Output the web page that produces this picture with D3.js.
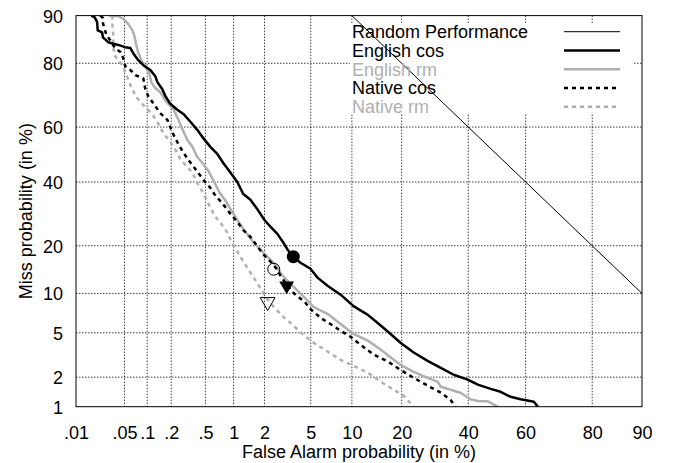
<!DOCTYPE html>
<html>
<head>
<meta charset="utf-8">
<script src="https://cdn.jsdelivr.net/npm/d3@7"></script>
<style>
  html, body { margin: 0; padding: 0; background: #fff; }
  svg { display: block; font-family: "Liberation Sans", Arial, Helvetica, sans-serif; }
</style>
</head>
<body>
<svg id="chart" width="681" height="463"></svg>
<script>
// ---------------- DATA (percent values) ----------------
const xTickValues = [0.01, 0.05, 0.1, 0.2, 0.5, 1, 2, 5, 10, 20, 40, 60, 80, 90];
const xTickLabels = [".01", ".05", ".1", ".2", ".5", "1", "2", "5", "10", "20", "40", "60", "80", "90"];
const yTickValues = [1, 2, 5, 10, 20, 40, 60, 80, 90];
const yTickLabels = ["1", "2", "5", "10", "20", "40", "60", "80", "90"];

const randomPerformance = [[10, 90], [90, 10]];

const englishCos = [[0.017,90],[0.019,89.7],[0.0206,88.9],[0.021,87.4],[0.0243,87.0],[0.025,86],[0.0296,85],[0.041,84.4],[0.051,83.9],[0.06,83.7],[0.0656,82.5],[0.0764,80.8],[0.089,79.5],[0.11,78.2],[0.127,76.5],[0.135,74.8],[0.155,72.7],[0.17,70.5],[0.195,68],[0.237,66],[0.28,64.6],[0.34,61.8],[0.405,59],[0.474,56],[0.567,52.8],[0.674,50.2],[0.781,46.9],[0.93,43.3],[1.09,40],[1.25,35.8],[1.47,33.8],[1.73,30.5],[2.0,27.3],[2.28,25.2],[2.62,23.2],[2.96,20.8],[3.22,19.0],[3.63,17.2],[4.13,15.9],[4.97,14.6],[5.65,12.8],[6.72,11.3],[8.36,9.8],[10.25,8.1],[12.7,6.95],[14.6,6.0],[16.8,5.1],[19.7,4.12],[23.1,3.39],[27.0,2.85],[31,2.45],[35.1,2.11],[39.8,1.89],[43.3,1.69],[47.8,1.53],[51.3,1.43],[54.8,1.27],[58.3,1.2],[62.8,1.13],[64.1,1.0]];

const englishRm = [[0.03,90],[0.041,89.9],[0.049,89.4],[0.056,88.6],[0.064,87.4],[0.068,86.3],[0.072,84.4],[0.076,82.8],[0.084,80.8],[0.094,79.3],[0.106,77.6],[0.113,74.8],[0.127,73],[0.146,71.8],[0.175,68.6],[0.212,66.3],[0.243,62.8],[0.272,59.3],[0.312,55.3],[0.358,52.8],[0.405,49.1],[0.474,46.5],[0.539,44],[0.626,40],[0.707,36.5],[0.8,34.1],[0.928,30.8],[1.09,27.3],[1.29,24.1],[1.58,20.8],[1.96,18.2],[2.42,15.9],[2.96,13],[3.63,11.1],[4.38,9.48],[5.26,7.99],[6.72,7.08],[8.36,5.9],[10.25,4.9],[12.7,4.3],[15.2,3.6],[17.5,3.04],[19.7,2.62],[23.1,2.25],[27.0,1.97],[30,1.81],[31,1.61],[34.1,1.5],[37.4,1.4],[40.8,1.2],[43.3,1.15],[46.8,1.14],[50.3,1]];

const nativeCos = [[0.0228,90],[0.025,89.6],[0.025,88.7],[0.028,86.5],[0.032,85.3],[0.037,83.7],[0.044,82.8],[0.048,81.3],[0.051,79.3],[0.06,78.2],[0.07,76.8],[0.089,75.9],[0.094,73],[0.103,70.5],[0.119,68.3],[0.146,64.9],[0.18,62.5],[0.206,58.2],[0.237,54.6],[0.272,51.3],[0.321,48],[0.376,45.1],[0.44,42.2],[0.498,40],[0.567,37.9],[0.626,35.8],[0.707,33.8],[0.8,31.8],[0.928,29.2],[1.09,26.7],[1.25,24.3],[1.47,22.4],[1.73,19.7],[1.96,17.8],[2.28,16.1],[2.62,14.4],[2.79,13.2],[3.16,11.5],[3.7,9.9],[4.47,8.7],[4.97,7.7],[5.95,6.6],[7.06,5.9],[8.36,5.2],[9.8,4.64],[11.4,3.96],[13.8,3.25],[16.8,2.8],[19.7,2.35],[23.1,1.97],[27.0,1.65],[31,1.4],[34.1,1.18],[35.7,1]];

const nativeRm = [[0.034,90],[0.034,88.4],[0.035,86.5],[0.035,84.4],[0.036,82.1],[0.041,80.8],[0.047,79.5],[0.053,76.8],[0.06,73.9],[0.072,70.2],[0.086,68],[0.103,66],[0.12,63.9],[0.139,61.1],[0.16,57.9],[0.195,54.6],[0.225,51.7],[0.257,48.4],[0.303,45.8],[0.358,43.3],[0.405,39.7],[0.451,37.2],[0.498,34.8],[0.567,31.2],[0.642,28.3],[0.744,26.1],[0.864,23.5],[0.97,20.5],[1.09,18.5],[1.22,16.6],[1.41,14.4],[1.61,12.6],[1.84,10.8],[2.09,9.3],[2.42,8],[2.96,6.7],[3.63,5.7],[4.38,4.8],[5.26,4.12],[6.72,3.46],[8.36,2.91],[10.25,2.56],[12.7,2.21],[15.2,1.81],[18.1,1.5],[20.5,1.3],[23.1,1]];

// operating-point markers [FA %, Miss %]
const englishCosPoint = [3.6, 17.3];
const englishRmPoint = [2.43, 14.5];
const nativeCosPoint = [3.16, 11.3];
const nativeRmPoint = [2.14, 8.7];

const seriesLabels = ["Random Performance", "English cos", "English rm", "Native cos", "Native rm"];

// ---------------- normal deviate transform ----------------
function probit(p) {
  const a = [-3.969683028665376e+01, 2.209460984245205e+02, -2.759285104469687e+02, 1.383577518672690e+02, -3.066479806614716e+01, 2.506628277459239e+00];
  const b = [-5.447609879822406e+01, 1.615858368580409e+02, -1.556989798598866e+02, 6.680131188771972e+01, -1.328068155288572e+01];
  const c = [-7.784894002430293e-03, -3.223964580411365e-01, -2.400758277161838e+00, -2.549732539343734e+00, 4.374664141464968e+00, 2.938163982698783e+00];
  const d = [7.784695709041462e-03, 3.224671290700398e-01, 2.445134137142996e+00, 3.754408661907416e+00];
  const pl = 0.02425, ph = 1 - pl;
  let q, r;
  if (p < pl) {
    q = Math.sqrt(-2 * Math.log(p));
    return (((((c[0]*q+c[1])*q+c[2])*q+c[3])*q+c[4])*q+c[5]) / ((((d[0]*q+d[1])*q+d[2])*q+d[3])*q+1);
  } else if (p <= ph) {
    q = p - 0.5; r = q * q;
    return (((((a[0]*r+a[1])*r+a[2])*r+a[3])*r+a[4])*r+a[5])*q / (((((b[0]*r+b[1])*r+b[2])*r+b[3])*r+b[4])*r+1);
  } else {
    q = Math.sqrt(-2 * Math.log(1 - p));
    return -(((((c[0]*q+c[1])*q+c[2])*q+c[3])*q+c[4])*q+c[5]) / ((((d[0]*q+d[1])*q+d[2])*q+d[3])*q+1);
  }
}
const dev = v => probit(v / 100);

// ---------------- layout ----------------
const L = 76, R = 642, T = 15.6, B = 406.7;
const svg = d3.select("#chart");
const FONT = 18;

const xs = d3.scaleLinear().domain([dev(0.01), dev(90)]).range([L, R]);
const ys = d3.scaleLinear().domain([dev(1), dev(90)]).range([B, T]);
const X = v => xs(dev(v));
const Y = v => ys(dev(v));

// grid
const grid = svg.append("g");
grid.selectAll("line.vx").data(xTickValues.slice(1, -1)).enter().append("line")
  .attr("x1", d => X(d)).attr("x2", d => X(d)).attr("y1", T).attr("y2", B)
  .attr("stroke", "#000").attr("stroke-width", 1).attr("stroke-dasharray", "1.5,1.5").attr("opacity", 0.75);
grid.selectAll("line.hy").data(yTickValues.slice(1, -1)).enter().append("line")
  .attr("x1", L).attr("x2", R).attr("y1", d => Y(d)).attr("y2", d => Y(d))
  .attr("stroke", "#000").attr("stroke-width", 1).attr("stroke-dasharray", "1.5,1.5").attr("opacity", 0.75);

// axes (labels only, via d3 axes)
const xAxis = d3.axisBottom(xs).tickValues(xTickValues.map(dev))
  .tickFormat((d, i) => xTickLabels[i]).tickSize(0).tickPadding(0);
const gx = svg.append("g").attr("transform", `translate(0,${B})`).call(xAxis);
gx.select(".domain").remove();
gx.selectAll("text").attr("font-size", FONT).attr("font-family", "Liberation Sans, Arial, sans-serif")
  .attr("fill", "#000").attr("dy", null).attr("y", 32);

const yAxis = d3.axisLeft(ys).tickValues(yTickValues.map(dev))
  .tickFormat((d, i) => yTickLabels[i]).tickSize(0).tickPadding(0);
const gy = svg.append("g").attr("transform", `translate(${L},0)`).call(yAxis);
gy.select(".domain").remove();
gy.selectAll("text").attr("font-size", FONT).attr("font-family", "Liberation Sans, Arial, sans-serif")
  .attr("fill", "#000").attr("x", -13).attr("dy", "0.36em");

// clip
svg.append("defs").append("clipPath").attr("id", "plotclip")
  .append("rect").attr("x", L).attr("y", T).attr("width", R - L).attr("height", B - T);

const line = d3.line().x(d => X(d[0])).y(d => Y(d[1]));
const GRAY = "#b0b0b0";

// legend background box (opaque)
svg.append("rect").attr("x", 350).attr("y", 23).attr("width", 283).attr("height", 90).attr("fill", "#fff");

const plot = svg.append("g").attr("clip-path", "url(#plotclip)");
const styles = [
  { data: randomPerformance, color: "#000", width: 1, dash: null },
  { data: englishCos, color: "#000", width: 2.5, dash: null },
  { data: englishRm, color: GRAY, width: 2.5, dash: null },
  { data: nativeCos, color: "#000", width: 2.5, dash: "4,4" },
  { data: nativeRm, color: GRAY, width: 2.5, dash: "4,4" }
];
[2, 4, 3, 1].forEach(i => {
  const s = styles[i];
  plot.append("path").datum(s.data).attr("d", line).attr("fill", "none")
    .attr("stroke", s.color).attr("stroke-width", s.width)
    .attr("stroke-dasharray", s.dash).attr("stroke-linejoin", "round");
});

// markers
plot.append("circle").attr("cx", X(englishCosPoint[0])).attr("cy", Y(englishCosPoint[1])).attr("r", 6.5).attr("fill", "#000");
plot.append("circle").attr("cx", X(englishRmPoint[0])).attr("cy", Y(englishRmPoint[1])).attr("r", 6)
  .attr("fill", "none").attr("stroke", "#000").attr("stroke-width", 1);
const tri = d3.symbol().type(d3.symbolTriangle).size(95);
plot.append("path").attr("d", tri).attr("transform", `translate(${X(nativeCosPoint[0])},${Y(nativeCosPoint[1])}) rotate(180)`)
  .attr("fill", "#000");
plot.append("path").attr("d", tri).attr("transform", `translate(${X(nativeRmPoint[0])},${Y(nativeRmPoint[1])}) rotate(180)`)
  .attr("fill", "none").attr("stroke", "#000").attr("stroke-width", 1);

// legend
const legend = svg.append("g");
const textColors = ["#000", "#000", GRAY, "#000", GRAY];
seriesLabels.forEach((lab, i) => {
  const cy = 31.7 + i * 18.75;
  legend.append("text").attr("x", 352).attr("y", cy).attr("dy", "0.36em")
    .attr("font-size", FONT).attr("fill", textColors[i]).text(lab);
  legend.append("line").attr("x1", 564).attr("x2", 620).attr("y1", cy).attr("y2", cy)
    .attr("stroke", styles[i].color).attr("stroke-width", styles[i].width)
    .attr("stroke-dasharray", styles[i].dash);
});

// random performance line on top
plot.append("path").datum(randomPerformance).attr("d", line).attr("fill", "none")
  .attr("stroke", "#000").attr("stroke-width", 1);

// border
svg.append("rect").attr("x", L).attr("y", T).attr("width", R - L).attr("height", B - T)
  .attr("fill", "none").attr("stroke", "#000").attr("stroke-width", 1);

// axis titles
svg.append("text").attr("x", (L + R) / 2).attr("y", 452).attr("dy", "0.36em").attr("text-anchor", "middle")
  .attr("font-size", FONT).text("False Alarm probability (in %)");
svg.append("text").attr("transform", `translate(26,${(T + B) / 2}) rotate(-90)`).attr("dy", "0.36em")
  .attr("text-anchor", "middle").attr("font-size", FONT).text("Miss probability (in %)");
</script>
</body>
</html>
